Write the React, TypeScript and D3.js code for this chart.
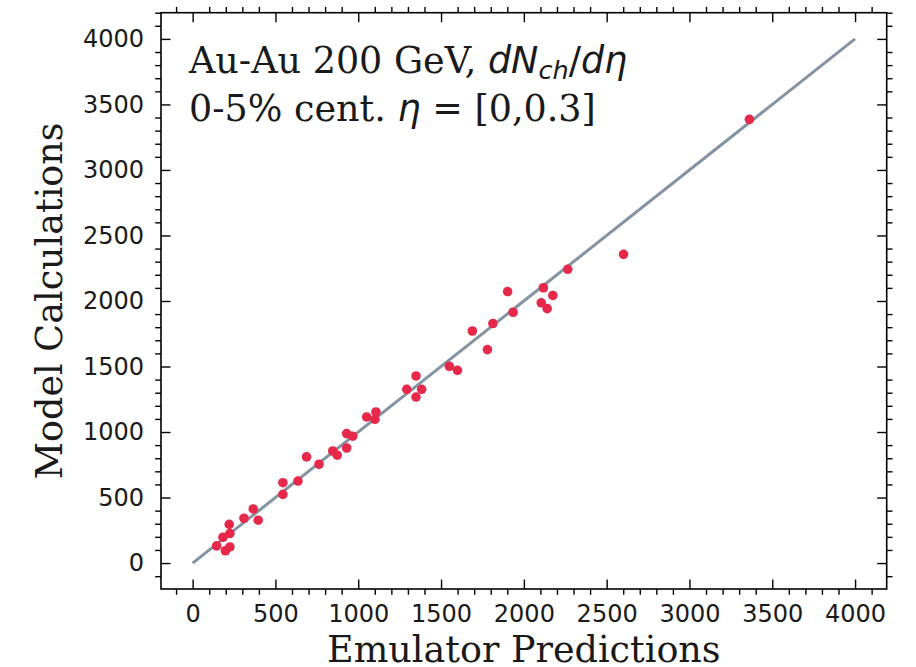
import React, { useEffect, useRef } from "react";
import * as d3 from "d3";

const emulator = [
  145, 183, 198, 225, 225, 221, 310, 366, 396, 545, 545, 636, 688, 763, 846,
  873, 930, 930, 967, 1051, 1101, 1107, 1293, 1349, 1383, 1349, 1550, 1599,
  1689, 1780, 1813, 1902, 1935, 2118, 2175, 2105, 2141, 2265, 2602, 3362,
];
const model = [
  131, 197, 94, 123, 225, 295, 342, 413, 327, 524, 613, 626, 810, 754, 855,
  823, 878, 988, 968, 1115, 1097, 1153, 1326, 1267, 1326, 1428, 1502, 1471,
  1771, 1629, 1828, 2072, 1914, 2101, 2042, 1986, 1942, 2242, 2356, 3386,
];
const identityLine = [0, 4000];
const majorTicks = [0, 500, 1000, 1500, 2000, 2500, 3000, 3500, 4000];
const minorStep = 100;
const xDomain = [-191, 4191];
const yDomain = [-198, 4200];

const W = 916;
const H = 667;
const left = 161;
const right = 886.7;
const top = 12.7;
const bottom = 589;

export default function App() {
  const ref = useRef<SVGSVGElement>(null);

  useEffect(() => {
    const svg = d3.select(ref.current);
    svg.selectAll("*").remove();

    const x = d3.scaleLinear().domain(xDomain).range([left, right]);
    const y = d3.scaleLinear().domain(yDomain).range([bottom, top]);

    const minorX = d3
      .range(Math.ceil(xDomain[0] / minorStep), Math.floor(xDomain[1] / minorStep) + 1)
      .map((k) => k * minorStep)
      .filter((v) => v % 500 !== 0);
    const minorY = d3
      .range(Math.ceil(yDomain[0] / minorStep), Math.floor(yDomain[1] / minorStep) + 1)
      .map((k) => k * minorStep)
      .filter((v) => v % 500 !== 0);

    const tickFont = "DejaVu Sans, sans-serif";
    const tickSize = 24;
    const majLen = 9.5;
    const minLen = 5.8;
    const tw = 1.4;

    // identity line
    const line = d3
      .line<number>()
      .x((d) => x(d))
      .y((d) => y(d));
    svg
      .append("path")
      .attr("d", line(identityLine) || "")
      .attr("fill", "none")
      .attr("stroke", "#8493a1")
      .attr("stroke-width", 3);

    // points
    svg
      .append("g")
      .selectAll("circle")
      .data(emulator.map((e, i) => [e, model[i]]))
      .join("circle")
      .attr("cx", (d) => x(d[0]))
      .attr("cy", (d) => y(d[1]))
      .attr("r", 4.8)
      .attr("fill", "#e6284b");

    const styleAxis = (g: d3.Selection<SVGGElement, unknown, null, undefined>) => {
      g.select(".domain").remove();
      g.selectAll(".tick line").attr("stroke", "#000").attr("stroke-width", tw);
      g.selectAll(".tick text")
        .attr("fill", "#1a1a1a")
        .attr("font-family", tickFont)
        .attr("font-size", tickSize);
    };

    // bottom major
    const gb = svg
      .append("g")
      .attr("transform", `translate(0,${bottom})`)
      .call(
        d3
          .axisBottom(x)
          .tickValues(majorTicks)
          .tickSize(-majLen)
          .tickPadding(16)
          .tickFormat(d3.format("d"))
      );
    styleAxis(gb);
    // bottom minor
    const gbm = svg
      .append("g")
      .attr("transform", `translate(0,${bottom})`)
      .call(d3.axisBottom(x).tickValues(minorX).tickSize(minLen).tickFormat(() => ""));
    styleAxis(gbm);
    // top major
    const gt = svg
      .append("g")
      .attr("transform", `translate(0,${top})`)
      .call(d3.axisTop(x).tickValues(majorTicks).tickSize(-majLen).tickFormat(() => ""));
    styleAxis(gt);
    const gtm = svg
      .append("g")
      .attr("transform", `translate(0,${top})`)
      .call(d3.axisTop(x).tickValues(minorX).tickSize(minLen).tickFormat(() => ""));
    styleAxis(gtm);
    // left major
    const gl = svg
      .append("g")
      .attr("transform", `translate(${left},0)`)
      .call(
        d3
          .axisLeft(y)
          .tickValues(majorTicks)
          .tickSize(-majLen)
          .tickPadding(17)
          .tickFormat(d3.format("d"))
      );
    styleAxis(gl);
    const glm = svg
      .append("g")
      .attr("transform", `translate(${left},0)`)
      .call(d3.axisLeft(y).tickValues(minorY).tickSize(minLen).tickFormat(() => ""));
    styleAxis(glm);
    // right
    const gr = svg
      .append("g")
      .attr("transform", `translate(${right},0)`)
      .call(d3.axisRight(y).tickValues(majorTicks).tickSize(-majLen).tickFormat(() => ""));
    styleAxis(gr);
    const grm = svg
      .append("g")
      .attr("transform", `translate(${right},0)`)
      .call(d3.axisRight(y).tickValues(minorY).tickSize(minLen).tickFormat(() => ""));
    styleAxis(grm);

    // frame
    svg
      .append("rect")
      .attr("x", left)
      .attr("y", top)
      .attr("width", right - left)
      .attr("height", bottom - top)
      .attr("fill", "none")
      .attr("stroke", "#000")
      .attr("stroke-width", 1.6);

    // axis labels
    const serif = "DejaVu Serif, serif";
    const labelSize = 36.5;
    svg
      .append("text")
      .attr("x", (left + right) / 2)
      .attr("y", 661.5)
      .attr("text-anchor", "middle")
      .attr("font-family", serif)
      .attr("font-size", labelSize)
      .attr("fill", "#1a1a1a")
      .text("Emulator Predictions");
    svg
      .append("text")
      .attr("transform", `translate(62,${(top + bottom) / 2}) rotate(-90)`)
      .attr("text-anchor", "middle")
      .attr("font-family", serif)
      .attr("font-size", labelSize)
      .attr("fill", "#1a1a1a")
      .text("Model Calculations");

    // annotation
    const fs = 36.5;
    const t1 = svg
      .append("text")
      .attr("x", 189)
      .attr("y", 72.7)
      .attr("font-family", serif)
      .attr("font-size", fs)
      .attr("fill", "#1a1a1a");
    t1.append("tspan").text("Au-Au 200 GeV, ");
    const m = "DejaVu Sans, sans-serif";
    t1.append("tspan").attr("font-family", m).attr("font-style", "italic").text("dN");
    t1.append("tspan")
      .attr("font-family", m)
      .attr("font-style", "italic")
      .attr("font-size", fs * 0.7)
      .attr("dy", 6)
      .text("ch");
    t1.append("tspan").attr("font-family", m).attr("dy", -6).text("/");
    t1.append("tspan").attr("font-family", m).attr("font-style", "italic").text("dη");

    const t2 = svg
      .append("text")
      .attr("x", 189)
      .attr("y", 121)
      .attr("font-family", serif)
      .attr("font-size", fs)
      .attr("fill", "#1a1a1a");
    t2.append("tspan").text("0-5% cent. ");
    t2.append("tspan").attr("font-family", m).attr("font-style", "italic").text("η");
    t2.append("tspan").text(" = [0,0.3]");
  }, []);

  return (
    <svg
      ref={ref}
      width={W}
      height={H}
      style={{ position: "absolute", left: 0, top: 0, background: "#fff" }}
    />
  );
}
